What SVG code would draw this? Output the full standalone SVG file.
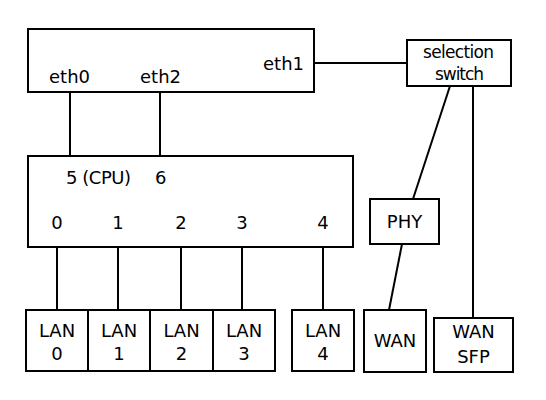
<svg xmlns="http://www.w3.org/2000/svg" width="546" height="400" viewBox="0 0 546 400">
<style>
rect{fill:#fff;stroke:#000;stroke-width:2}
line{stroke:#000;stroke-width:2}
text{font-family:"DejaVu Sans","Liberation Sans",sans-serif;font-size:18px;fill:#000}
.m{text-anchor:middle}
.s{font-size:17px}
</style>
<rect x="0" y="0" width="546" height="400" style="stroke:none"/>
<g id="connectors">
<line x1="70" y1="92" x2="70" y2="156"/>
<line x1="160" y1="92" x2="160" y2="156"/>
<line x1="314" y1="63" x2="407" y2="63"/>
<line x1="450" y1="86" x2="413" y2="199"/>
<line x1="473" y1="86" x2="473" y2="318"/>
<line x1="402" y1="244" x2="389" y2="310"/>
<line x1="57" y1="247" x2="57" y2="310"/>
<line x1="118" y1="247" x2="118" y2="310"/>
<line x1="181" y1="247" x2="181" y2="310"/>
<line x1="242" y1="247" x2="242" y2="310"/>
<line x1="323" y1="247" x2="323" y2="310"/>
</g>
<g id="cpu">
<rect x="28" y="29" width="286" height="63"/>
<text x="49" y="83">eth0</text>
<text x="140" y="83">eth2</text>
<text x="263" y="70">eth1</text>
</g>
<g id="selswitch">
<rect x="407" y="40" width="104" height="46"/>
<text class="s" x="423" y="58" textLength="71">selection</text>
<text class="s" x="435" y="80" textLength="49">switch</text>
</g>
<g id="switch">
<rect x="28" y="156" width="325" height="91"/>
<text x="66" y="184" textLength="65">5 (CPU)</text>
<text x="155" y="184">6</text>
<text class="m" x="57" y="229">0</text>
<text class="m" x="118" y="229">1</text>
<text class="m" x="181" y="229">2</text>
<text class="m" x="242" y="229">3</text>
<text class="m" x="323" y="229">4</text>
</g>
<g id="phy">
<rect x="370" y="199" width="69" height="45"/>
<text class="m" x="404.5" y="228">PHY</text>
</g>
<g id="lan0"><rect x="26" y="310" width="62" height="61"/><text class="m" x="57" y="337">LAN</text><text class="m" x="57" y="360">0</text></g>
<g id="lan1"><rect x="88" y="310" width="62" height="61"/><text class="m" x="119" y="337">LAN</text><text class="m" x="119" y="360">1</text></g>
<g id="lan2"><rect x="150" y="310" width="63" height="61"/><text class="m" x="181.5" y="337">LAN</text><text class="m" x="181.5" y="360">2</text></g>
<g id="lan3"><rect x="213" y="310" width="62" height="61"/><text class="m" x="244" y="337">LAN</text><text class="m" x="244" y="360">3</text></g>
<g id="lan4"><rect x="292" y="310" width="62" height="61"/><text class="m" x="323" y="337">LAN</text><text class="m" x="323" y="360">4</text></g>
<g id="wan"><rect x="364" y="310" width="62" height="62"/><text class="m" x="395" y="347">WAN</text></g>
<g id="wansfp"><rect x="434" y="318" width="79" height="54"/><text class="m" x="473.5" y="338">WAN</text><text class="m" x="473.5" y="363">SFP</text></g>
</svg>
